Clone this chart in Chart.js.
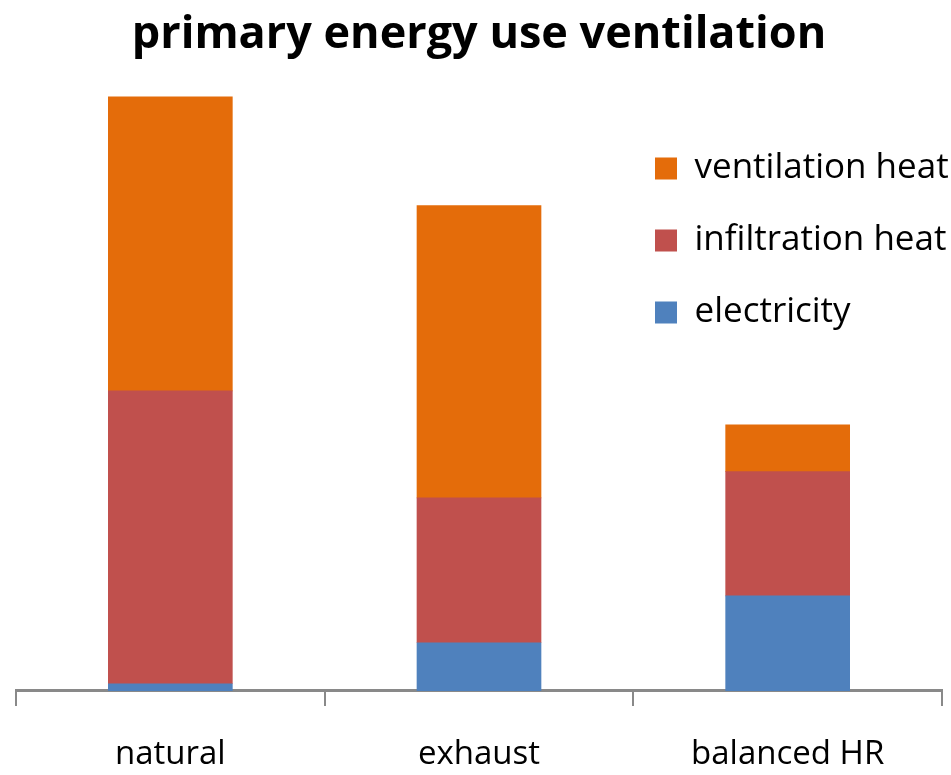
<!DOCTYPE html>
<html>
<head>
<meta charset="utf-8">
<title>primary energy use ventilation</title>
<script src="https://cdn.jsdelivr.net/npm/chart.js@4.4.1/dist/chart.umd.min.js"></script>
<style>
  html, body { margin: 0; padding: 0; background: #fff; }
  canvas { display: block; }
</style>
</head>
<body>
<canvas id="energie" width="951" height="775"></canvas>
<script>
// categories (ventilation system) and series
const categories = ['natural', 'exhaust', 'balanced HR'];
const electricity = [1.2, 8.1, 16.0];
const infiltrationHeat = [49.3, 24.4, 20.9];
const ventilationHeat = [49.5, 49.2, 7.9];

// moves the legend into the free corner of the plot, like the original
const placeLegend = {
  id: 'placeLegend',
  afterLayout(chart) {
    const lg = chart.legend;
    lg.left = 618;
    lg.top = 114;
    lg.right = lg.left + lg.width;
    lg.bottom = lg.top + lg.height;
  }
};

Chart.defaults.font.family = "'Open Sans', sans-serif";
Chart.defaults.color = '#000';

const ctx = document.getElementById('energie').getContext('2d');
new Chart(ctx, {
  type: 'bar',
  data: {
    labels: categories,
    datasets: [
      { label: 'electricity', data: electricity, backgroundColor: '#4F81BD' },
      { label: 'infiltration heat', data: infiltrationHeat, backgroundColor: '#C0504D' },
      { label: 'ventilation heat', data: ventilationHeat, backgroundColor: '#E46C0A' }
    ]
  },
  options: {
    responsive: false,
    animation: false,
    layout: { padding: { left: 16, right: 9, top: 0, bottom: -28.5 } },
    datasets: { bar: { barThickness: 124, borderWidth: 0 } },
    plugins: {
      title: {
        display: true,
        text: 'primary energy use ventilation',
        font: { size: 45, weight: 'bold' },
        padding: { top: 8, bottom: 11 }
      },
      legend: {
        position: 'chartArea',
        align: 'start',
        reverse: true,
        labels: {
          boxWidth: 22,
          boxHeight: 22,
          padding: 37,
          font: { size: 35 }
        }
      },
      tooltip: { enabled: false }
    },
    scales: {
      x: {
        stacked: true,
        grid: {
          offset: true,
          drawOnChartArea: false,
          tickLength: 15,
          color: '#898989',
          lineWidth: 2
        },
        border: { display: true, color: '#898989', width: 3 },
        ticks: { font: { size: 33 }, padding: 29, color: '#000' }
      },
      y: {
        stacked: true,
        display: false,
        min: 0,
        max: 104
      }
    }
  },
  plugins: [placeLegend]
});
</script>
</body>
</html>
